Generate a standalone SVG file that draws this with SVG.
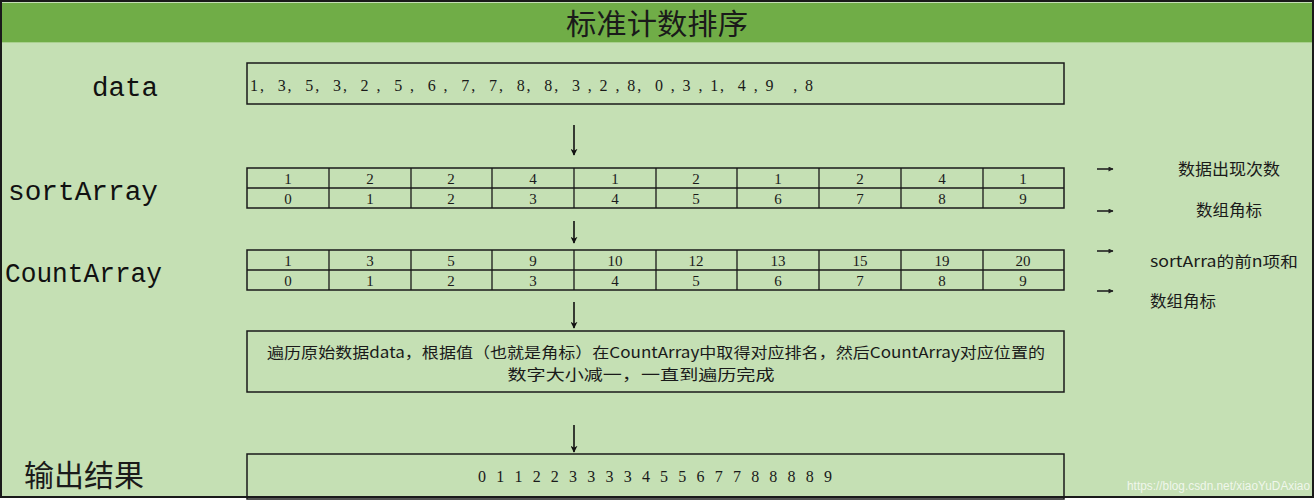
<svg xmlns="http://www.w3.org/2000/svg" width="1315" height="500" viewBox="0 0 1315 500">
<style>
.cjk{font-family:"Noto Sans CJK SC","Noto Sans",sans-serif;fill:#1a1a1a}
.num{font-family:"Liberation Serif","Noto Sans CJK SC",serif;fill:#1a1a1a}
.mono{font-family:"Liberation Mono","DejaVu Sans Mono",monospace;fill:#111}
.box{fill:none;stroke:#1a1a1a;stroke-width:1.5}
.grid{stroke:#1a1a1a;stroke-width:1.3}
.arr{stroke:#111;stroke-width:1.6;fill:none}
.rarr{stroke:#222;stroke-width:1.6;fill:none}
</style>
<defs>
<marker id="ah" viewBox="0 0 10 10" refX="9" refY="5" markerWidth="7" markerHeight="7" orient="auto" markerUnits="userSpaceOnUse">
<path d="M0,0 L10,5 L0,10 L3,5 z" fill="#111"/>
</marker>
<marker id="ahs" viewBox="0 0 10 10" refX="9" refY="5" markerWidth="6" markerHeight="5" orient="auto" markerUnits="userSpaceOnUse">
<path d="M0,0 L10,5 L0,10 z" fill="#222"/>
</marker>
</defs>
<rect x="0" y="0" width="1315" height="500" fill="#ffffff"/>
<rect x="1" y="1" width="1312" height="496" fill="#C5E0B4" stroke="#1a1a1a" stroke-width="2"/>
<rect x="2" y="3" width="1310" height="39" fill="#70AD47"/>
<line x1="2" y1="42.5" x2="1312" y2="42.5" stroke="#a9d08e" stroke-width="1"/>
<text id="title" x="657" y="35" class="cjk" font-size="29" text-anchor="middle" textLength="182" lengthAdjust="spacingAndGlyphs">标准计数排序</text>

<g id="labels">
<text x="92" y="96" class="mono" font-size="27" textLength="66" lengthAdjust="spacingAndGlyphs">data</text>
<text x="8" y="200" class="mono" font-size="27" textLength="150" lengthAdjust="spacingAndGlyphs">sortArray</text>
<text x="5" y="282" class="mono" font-size="27" textLength="157" lengthAdjust="spacingAndGlyphs">CountArray</text>
<text x="24" y="486" class="cjk" font-size="30" textLength="120" lengthAdjust="spacingAndGlyphs">输出结果</text>
</g>

<g id="data">
<rect x="247" y="63" width="817" height="41" class="box"/>
<text x="250" y="91" class="num" font-size="16" textLength="563" lengthAdjust="spacing" xml:space="preserve">1,  3,  5,  3,  2 ,  5 ,  6 ,  7,  7,  8,  8,  3 , 2 , 8,  0 , 3 , 1,  4 , 9   , 8</text>
</g>

<g id="sortArray">
<rect x="247" y="168" width="817" height="40" class="box"/>
<line x1="247" y1="188" x2="1064" y2="188" class="grid"/>
<g class="grid">
<line x1="329" y1="168" x2="329" y2="208"/><line x1="411" y1="168" x2="411" y2="208"/><line x1="492" y1="168" x2="492" y2="208"/><line x1="574" y1="168" x2="574" y2="208"/><line x1="656" y1="168" x2="656" y2="208"/><line x1="737" y1="168" x2="737" y2="208"/><line x1="819" y1="168" x2="819" y2="208"/><line x1="901" y1="168" x2="901" y2="208"/><line x1="983" y1="168" x2="983" y2="208"/>
</g>
<g class="num" font-size="15" text-anchor="middle">
<text x="288" y="184">1</text><text x="370" y="184">2</text><text x="451" y="184">2</text><text x="533" y="184">4</text><text x="615" y="184">1</text><text x="696" y="184">2</text><text x="778" y="184">1</text><text x="860" y="184">2</text><text x="942" y="184">4</text><text x="1023" y="184">1</text>
<text x="288" y="204">0</text><text x="370" y="204">1</text><text x="451" y="204">2</text><text x="533" y="204">3</text><text x="615" y="204">4</text><text x="696" y="204">5</text><text x="778" y="204">6</text><text x="860" y="204">7</text><text x="942" y="204">8</text><text x="1023" y="204">9</text>
</g>
</g>

<g id="CountArray">
<rect x="247" y="250" width="817" height="40" class="box"/>
<line x1="247" y1="270" x2="1064" y2="270" class="grid"/>
<g class="grid">
<line x1="329" y1="250" x2="329" y2="290"/><line x1="411" y1="250" x2="411" y2="290"/><line x1="492" y1="250" x2="492" y2="290"/><line x1="574" y1="250" x2="574" y2="290"/><line x1="656" y1="250" x2="656" y2="290"/><line x1="737" y1="250" x2="737" y2="290"/><line x1="819" y1="250" x2="819" y2="290"/><line x1="901" y1="250" x2="901" y2="290"/><line x1="983" y1="250" x2="983" y2="290"/>
</g>
<g class="num" font-size="15" text-anchor="middle">
<text x="288" y="266">1</text><text x="370" y="266">3</text><text x="451" y="266">5</text><text x="533" y="266">9</text><text x="615" y="266">10</text><text x="696" y="266">12</text><text x="778" y="266">13</text><text x="860" y="266">15</text><text x="942" y="266">19</text><text x="1023" y="266">20</text>
<text x="288" y="286">0</text><text x="370" y="286">1</text><text x="451" y="286">2</text><text x="533" y="286">3</text><text x="615" y="286">4</text><text x="696" y="286">5</text><text x="778" y="286">6</text><text x="860" y="286">7</text><text x="942" y="286">8</text><text x="1023" y="286">9</text>
</g>
</g>

<g id="process">
<rect x="247" y="331" width="817" height="61" class="box"/>
<text x="656" y="358" class="cjk" font-size="15" text-anchor="middle" textLength="778" lengthAdjust="spacingAndGlyphs">遍历原始数据data，根据值（也就是角标）在CountArray中取得对应排名，然后CountArray对应位置的</text>
<text x="641" y="380" class="cjk" font-size="15" text-anchor="middle" textLength="267" lengthAdjust="spacingAndGlyphs">数字大小减一，一直到遍历完成</text>
</g>

<g id="output">
<rect x="247" y="454" width="817" height="45" class="box"/>
<text x="478" y="482" class="num" font-size="16" textLength="354" lengthAdjust="spacing" xml:space="preserve">0 1 1 2 2 3 3 3 3 4 5 5 6 7 7 8 8 8 8 9</text>
</g>

<g id="notes">
<line x1="1097" y1="169" x2="1113" y2="169" class="rarr" marker-end="url(#ahs)"/>
<text x="1178" y="175" class="cjk" font-size="16" textLength="102" lengthAdjust="spacingAndGlyphs">数据出现次数</text>
<line x1="1097" y1="211" x2="1113" y2="211" class="rarr" marker-end="url(#ahs)"/>
<text x="1196" y="216" class="cjk" font-size="16" textLength="66" lengthAdjust="spacingAndGlyphs">数组角标</text>
<line x1="1097" y1="251" x2="1113" y2="251" class="rarr" marker-end="url(#ahs)"/>
<text x="1150" y="267" class="cjk" font-size="15" textLength="148" lengthAdjust="spacingAndGlyphs">sortArra的前n项和</text>
<line x1="1097" y1="291" x2="1113" y2="291" class="rarr" marker-end="url(#ahs)"/>
<text x="1150" y="307" class="cjk" font-size="16" textLength="66" lengthAdjust="spacingAndGlyphs">数组角标</text>
</g>

<g id="connectors">
<line x1="574" y1="125" x2="574" y2="155" class="arr" marker-end="url(#ah)"/>
<line x1="574" y1="221" x2="574" y2="243" class="arr" marker-end="url(#ah)"/>
<line x1="574" y1="302" x2="574" y2="328" class="arr" marker-end="url(#ah)"/>
<line x1="574" y1="425" x2="574" y2="452" class="arr" marker-end="url(#ah)"/>
</g>

<text x="1127" y="490" font-family="Liberation Sans Narrow,Liberation Sans,sans-serif" font-size="12" fill="#ffffff" fill-opacity="0.75" textLength="183" lengthAdjust="spacingAndGlyphs">https://blog.csdn.net/xiaoYuDAxiao</text>
</svg>
